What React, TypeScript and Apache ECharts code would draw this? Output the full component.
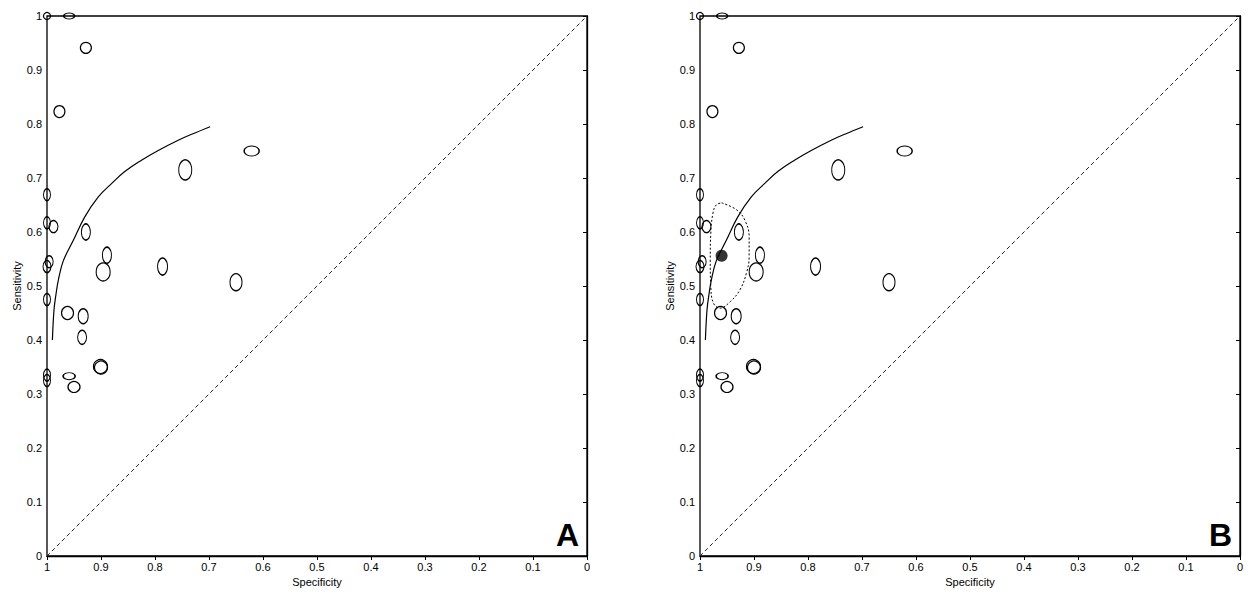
import React, { useEffect, useRef } from "react";
import * as echarts from "echarts";

// study estimates (specificity, sensitivity) and ellipse size (px)
const studySpec = [1, 0.959, 0.928, 0.977, 0.621, 0.744, 1, 1, 0.988, 0.928, 0.996, 1, 0.889, 0.896, 0.786, 0.65, 1, 0.962, 0.933, 0.935, 0.9, 0.901, 1, 1, 0.959, 0.95];
const studySens = [1, 1, 0.941, 0.823, 0.75, 0.715, 0.669, 0.617, 0.61, 0.6, 0.545, 0.536, 0.557, 0.526, 0.536, 0.507, 0.475, 0.45, 0.444, 0.405, 0.349, 0.351, 0.335, 0.325, 0.333, 0.313];
const ellipseW = [7, 11, 11, 11, 15, 13, 7, 7, 9, 9, 8, 8, 9, 14, 10, 12, 7, 12, 10, 9, 13, 14, 7, 7, 12, 12];
const ellipseH = [7, 6, 11, 12, 10, 20, 12, 12, 12, 16, 12, 12, 16, 18, 17, 17, 12, 13, 15, 14, 13, 14, 12, 12, 7, 11];

// SROC curve
const srocSpec = [0.99, 0.987, 0.983, 0.979, 0.97, 0.951, 0.93, 0.905, 0.88, 0.856, 0.825, 0.794, 0.757, 0.732, 0.698];
const srocSens = [0.4, 0.456, 0.487, 0.511, 0.546, 0.585, 0.628, 0.665, 0.69, 0.712, 0.733, 0.751, 0.77, 0.781, 0.795];

// summary point and its confidence region (panel B)
const summarySpec = 0.96;
const summarySens = 0.556;
const regionSpec = [0.96, 0.932, 0.917, 0.909, 0.909, 0.914, 0.926, 0.944, 0.963, 0.975, 0.98, 0.981, 0.98, 0.976, 0.97, 0.96];
const regionSens = [0.654, 0.641, 0.622, 0.591, 0.554, 0.524, 0.493, 0.471, 0.459, 0.468, 0.499, 0.548, 0.598, 0.635, 0.65, 0.654];

const panelLabels = ["A", "B"];
const gridLefts = [47, 700];

const FONT = '"Liberation Sans", Arial, sans-serif';

const zipPairs = (xs: number[], ys: number[]) => xs.map((x, i) => [x, ys[i]]);

const App: React.FC = () => {
  const chartRef = useRef<HTMLDivElement>(null);

  useEffect(() => {
    document.body.style.margin = "0";
    if (!chartRef.current) return;
    const chart = echarts.init(chartRef.current, null, { renderer: "svg" });

    const xAxis: any[] = [];
    const yAxis: any[] = [];
    const series: any[] = [];

    const baseAxis = {
      type: "value",
      min: 0,
      max: 1,
      interval: 0.1,
      splitLine: { show: false },
      axisLine: { lineStyle: { color: "#000", width: 1.3 } },
      axisTick: { length: 4, lineStyle: { color: "#000", width: 1 } },
      axisLabel: { color: "#000", fontSize: 11, fontFamily: FONT },
      nameTextStyle: { color: "#000", fontSize: 11, fontFamily: FONT },
    };

    gridLefts.forEach((_, g) => {
      xAxis.push({
        ...baseAxis,
        gridIndex: g,
        inverse: true,
        axisLabel: { ...baseAxis.axisLabel, margin: 5 },
        name: "Specificity",
        nameLocation: "middle",
        nameGap: 18,
      });
      xAxis.push({
        ...baseAxis,
        gridIndex: g,
        inverse: true,
        axisLine: { show: false },
        axisTick: { ...baseAxis.axisTick, inside: true },
        axisLabel: { show: false },
      });
      yAxis.push({
        ...baseAxis,
        gridIndex: g,
        axisLabel: { ...baseAxis.axisLabel, margin: 5 },
        name: "Sensitivity",
        nameLocation: "middle",
        nameGap: 25,
      });
      yAxis.push({
        ...baseAxis,
        gridIndex: g,
        axisLine: { show: false },
        axisTick: { ...baseAxis.axisTick, inside: true },
        axisLabel: { show: false },
      });

      const ax = { xAxisIndex: g * 2, yAxisIndex: g * 2 };

      series.push({
        type: "line",
        ...ax,
        data: [[1, 0], [0, 1]],
        showSymbol: false,
        lineStyle: { color: "#222", width: 1, type: [4, 3] },
        silent: true,
      });
      series.push({
        type: "line",
        ...ax,
        data: zipPairs(srocSpec, srocSens),
        smooth: 0.4,
        showSymbol: false,
        lineStyle: { color: "#000", width: 1.2 },
        silent: true,
      });
      series.push({
        type: "scatter",
        ...ax,
        clip: false,
        symbol: "circle",
        data: studySpec.map((s, i) => [s, studySens[i], ellipseW[i], ellipseH[i]]),
        symbolSize: (v: number[]) => [v[2], v[3]],
        itemStyle: { color: "rgba(0,0,0,0)", borderColor: "#000", borderWidth: 1.2, opacity: 1 },
        silent: true,
      });

      if (g === 1) {
        series.push({
          type: "line",
          ...ax,
          data: zipPairs(regionSpec, regionSens),
          smooth: 0.4,
          showSymbol: false,
          lineStyle: { color: "#000", width: 1, type: [2, 2] },
          silent: true,
        });
        series.push({
          type: "scatter",
          ...ax,
          clip: false,
          data: [[summarySpec, summarySens]],
          symbolSize: 12,
          itemStyle: { color: "#000" },
          silent: true,
        });
      }
    });

    chart.setOption({
      animation: false,
      backgroundColor: "#fff",
      grid: gridLefts.map((left) => ({
        left,
        top: 16,
        width: 540,
        height: 540,
        show: true,
        borderColor: "#000",
        borderWidth: 1.3,
        backgroundColor: "transparent",
      })),
      xAxis,
      yAxis,
      series,
      graphic: panelLabels.map((t, i) => ({
        type: "text",
        left: gridLefts[i] + 509,
        top: 519,
        style: { text: t, font: `bold 32px ${FONT}`, fill: "#000" },
      })),
    });

    return () => {
      chart.dispose();
    };
  }, []);

  return <div ref={chartRef} style={{ width: "1256px", height: "596px" }} />;
};

export default App;
